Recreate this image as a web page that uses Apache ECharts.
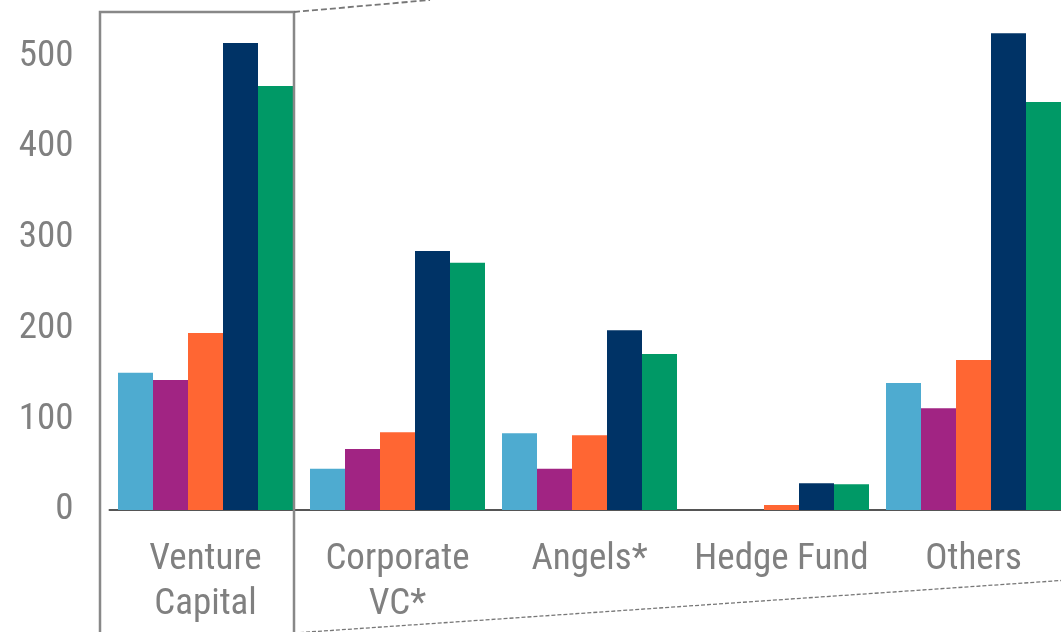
<!DOCTYPE html>
<html>
<head>
<meta charset="utf-8">
<script src="https://cdn.jsdelivr.net/npm/echarts@6/dist/echarts.min.js"></script>
<style>
html,body{margin:0;padding:0;background:#fff;}
#chart{width:1061px;height:632px;}
</style>
</head>
<body>
<div id="chart"></div>
<script>
const categories = ['Venture\nCapital', 'Corporate\nVC*', 'Angels*', 'Hedge Fund', 'Others'];
const seriesA = [151.4, 45.5, 84.6, 0, 140.0];
const seriesB = [143.3, 67.3, 45.5, 0, 112.1];
const seriesC = [195.1, 85.7, 82.4, 5.5, 165.4];
const seriesD = [514.9, 285.6, 198.1, 29.4, 525.6];
const seriesE = [467.5, 272.7, 172.0, 28.3, 449.8];
const yTicks = [0, 100, 200, 300, 400, 500];

const colors = ['#4eabd0', '#a12483', '#ff6633', '#003366', '#009966'];
const FONT = "'Liberation Sans Narrow', 'Roboto Condensed', 'DejaVu Sans Condensed', Roboto, sans-serif";

const chart = echarts.init(document.getElementById('chart'));
const mk = (name, data, i) => ({
  name, type: 'bar', data, barWidth: 35, barGap: '0%',
  itemStyle: { color: colors[i] }, clip: false, silent: true
});
chart.setOption({
  animation: false,
  grid: { left: 109.5, width: 960, top: 11.15, height: 498.85, containLabel: false, outerBoundsMode: 'none' },
  xAxis: {
    type: 'category', data: categories,
    axisLine: { show: true, lineStyle: { color: '#555', width: 2 } },
    axisTick: { show: false },
    axisLabel: { color: '#808080', fontSize: 37, fontFamily: FONT, lineHeight: 45, margin: 27, interval: 0 }
  },
  yAxis: {
    type: 'value', min: 0, max: 550, interval: 100,
    splitLine: { show: false }, axisLine: { show: false }, axisTick: { show: false },
    axisLabel: {
      color: '#808080', fontSize: 37, fontFamily: FONT, margin: 36,
      formatter: v => (yTicks.indexOf(v) >= 0 ? String(v) : '')
    }
  },
  series: [
    mk('A', seriesA, 0), mk('B', seriesB, 1), mk('C', seriesC, 2),
    mk('D', seriesD, 3), mk('E', seriesE, 4)
  ],
  graphic: [
    { type: 'rect', shape: { x: 100, y: 12, width: 194, height: 640 },
      style: { fill: 'none', stroke: '#888', lineWidth: 2.5 }, z: 100 },
    { type: 'line', shape: { x1: 294, y1: 12, x2: 430, y2: 0 },
      style: { stroke: '#777', lineWidth: 1.8, lineDash: [6, 3] }, z: 100 },
    { type: 'line', shape: { x1: 294, y1: 633, x2: 1061, y2: 580.5 },
      style: { stroke: '#777', lineWidth: 1.3, lineDash: [4, 2] }, z: 100 }
  ]
});
</script>
</body>
</html>
